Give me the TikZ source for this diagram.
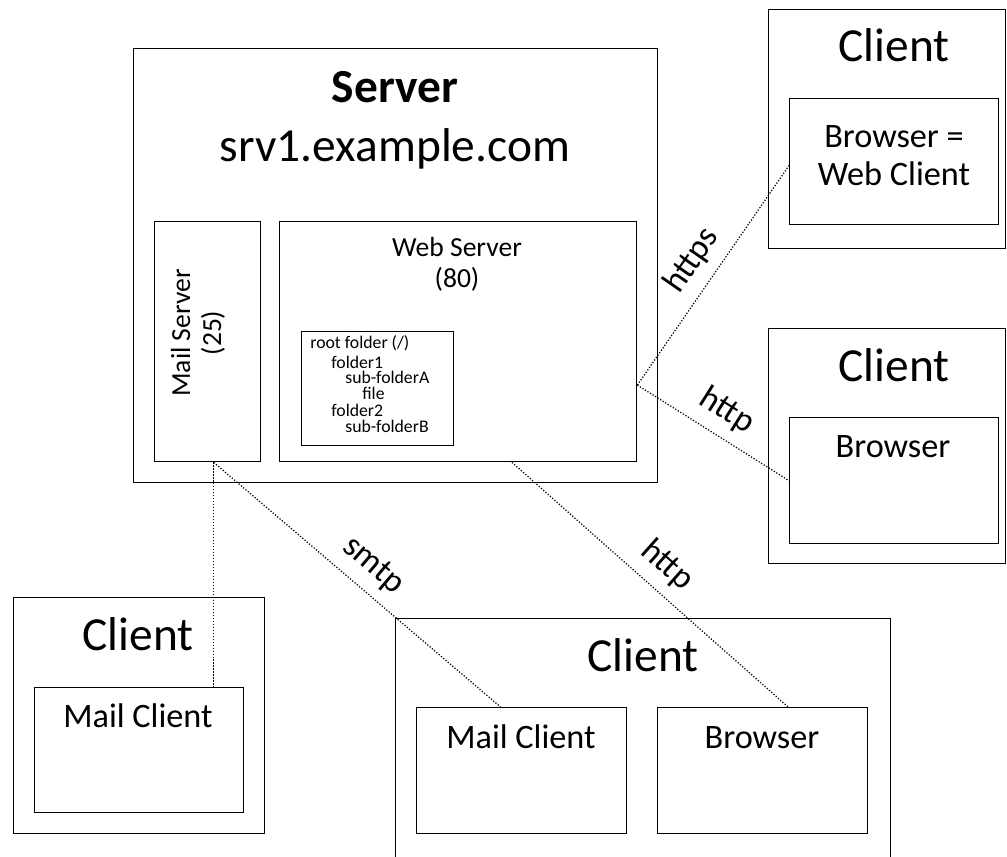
\documentclass[tikz,border=0pt]{standalone}
\usepackage{fontspec}
\setmainfont{Carlito}
\usepackage{tikz}
\usetikzlibrary{calc}

\tikzset{
  box/.style={draw, line width=0.8pt, anchor=north west, inner sep=0pt},
  big/.style={font=\fontsize{27}{32}\selectfont, anchor=base, inner sep=0pt},
  mid/.style={font=\fontsize{19.5}{21.5}\selectfont, anchor=base, inner sep=0pt},
  small/.style={font=\fontsize{15.7}{17.6}\selectfont, inner sep=0pt},
  tiny/.style={font=\fontsize{10.1}{9.5}\selectfont, anchor=base west, inner sep=0pt},
  link/.style={densely dotted, line width=0.7pt},
  lbl/.style={font=\fontsize{19.5}{21.5}\selectfont, midway, sloped, above=4pt, inner sep=2pt}
}

\begin{document}
\begin{tikzpicture}[x=0.02cm, y=-0.02cm]
\useasboundingbox (0,0) rectangle (1007,857);
% boxes
\foreach \n/\x/\y/\w/\h in {srv/133/48/10.48cm/8.68cm, ms/154/221/2.12cm/4.80cm, ws/279/221/7.14cm/4.80cm, rf/301/331/3.04cm/2.28cm,
  ctr/768/9/4.74cm/4.78cm, btr/789/98/4.18cm/2.52cm, cmr/768/328/4.74cm/4.70cm, bmr/789/417/4.18cm/2.52cm,
  cbl/13/597/5.02cm/4.72cm, mbl/34/687/4.18cm/2.50cm,
  cbc/395/618/9.90cm/5.20cm, mbc/416/707/4.20cm/2.52cm, bbc/657/707/4.20cm/2.52cm}{
\node[box, minimum width=\w, minimum height=\h] (\n) at (\x,\y) {};
}
% titles
\node[big, font=\bfseries\fontsize{27}{32}\selectfont] (srv-t) at (395,103) {Server};
\node[big] (srv-n) at (395,162) {srv1.example.com};
\foreach \n/\x/\y in {ctr/894/62, cmr/894/382, cbl/138/650, cbc/643/671}{
\node[big] (\n-t) at (\x,\y) {Client};
}
\node[mid] (btr-t1) at (894,148) {Browser =};
\node[mid] (btr-t2) at (894,186) {Web Client};
\foreach \n/\x/\y/\t in {bmr/893/458/Browser, mbl/138/727/Mail Client, mbc/521/748/Mail Client, bbc/762/748/Browser}{
\node[mid] (\n-t) at (\x,\y) {\t};
}
\node[small, anchor=base] (ws-t1) at (457,257) {Web Server};
\node[small, anchor=base] (ws-t2) at (457,288) {(80)};
\node[small, rotate=90, align=center] (ms-t) at (198,333) {Mail Server\\(25)};
\foreach \x/\y/\t [count=\i] in {310/349/{root folder (/)}, 331/369/folder1, 345/384/sub-folderA, 362/400/file, 331/417/folder2, 345/433/sub-folderB}{
\node[tiny] (rf-\i) at (\x,\y) {\t};
}
% links
\coordinate (msb) at ($(ms.south)+(6,0)$);
\coordinate (wsr) at ($(ws.north east)!0.68!(ws.south east)$);
\draw[link] (msb) -- (msb |- mbl.north);
\draw[link] (msb) -- node[lbl] (smtp) {smtp} ($(mbc.north west)!0.4!(mbc.north east)$);
\draw[link] ($(ws.south west)!0.65!(ws.south east)$) -- node[lbl] (http-b) {http} ($(bbc.north west)!0.62!(bbc.north east)$);
\draw[link] (wsr) -- node[lbl] (https) {https} ($(btr.north west)!0.53!(btr.south west)$);
\draw[link] (wsr) -- node[lbl] (http-r) {http} (bmr.west);
\end{tikzpicture}
\end{document}
